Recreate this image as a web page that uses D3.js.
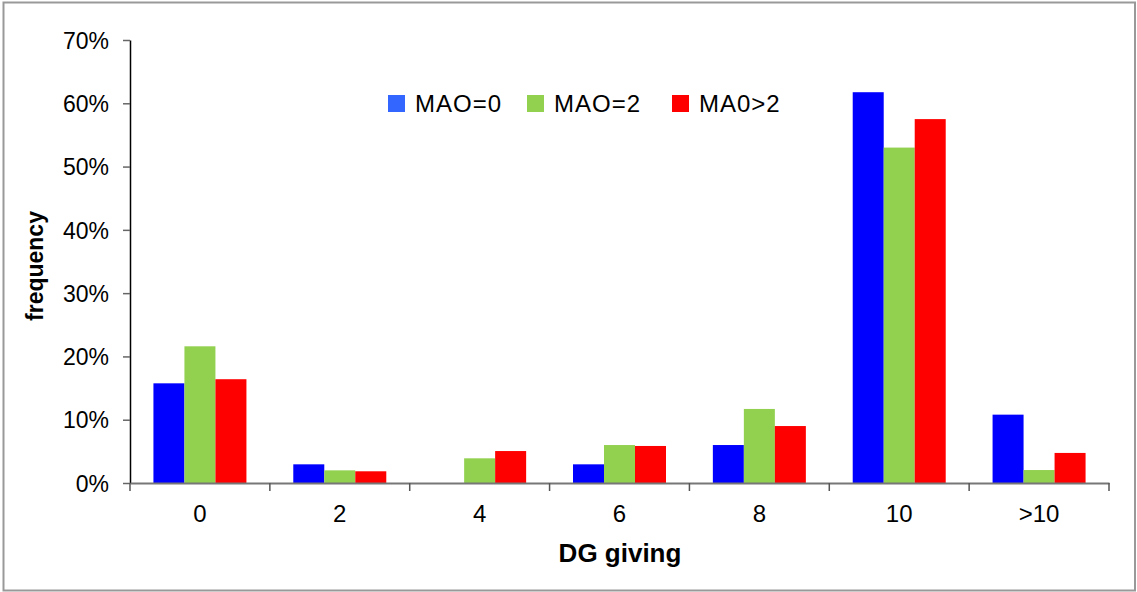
<!DOCTYPE html>
<html>
<head>
<meta charset="utf-8">
<script src="https://cdn.jsdelivr.net/npm/d3@7"></script>
<style>
  html, body { margin: 0; padding: 0; background: #fff; }
  svg { display: block; }
  text { font-family: Arial, "Liberation Sans", sans-serif; fill: #000; }
</style>
</head>
<body>
<svg id="chart" width="1137" height="592"></svg>
<script>
const categories = ["0", "2", "4", "6", "8", "10", ">10"];
const seriesNames = ["MAO=0", "MAO=2", "MA0>2"];
const mao0 = [0.1575, 0.0295, 0.0, 0.0295, 0.060, 0.6175, 0.108];
const mao2 = [0.216, 0.020, 0.039, 0.060, 0.117, 0.530, 0.0205];
const mao2plus = [0.164, 0.0185, 0.0505, 0.0585, 0.090, 0.575, 0.0475];
const yTicks = [0, 0.1, 0.2, 0.3, 0.4, 0.5, 0.6, 0.7];
const barColors = ["#0000ff", "#92d050", "#ff0000"];
const legendColors = ["#3366ff", "#92d050", "#ff0000"];

(function () {
const series = [mao0, mao2, mao2plus];
const svg = d3.select("#chart");

// outer frame
svg.append("rect").attr("x", 3.5).attr("y", 2.5).attr("width", 1131.5).attr("height", 588)
  .attr("fill", "#fff").attr("stroke", "#999").attr("stroke-width", 2);

const mLeft = 130, mRight = 1109, mTop = 40, mBottom = 483;
const x = d3.scaleBand().domain(categories).range([mLeft, mRight]).paddingInner(0).paddingOuter(0);
const x1 = d3.scaleBand().domain(d3.range(series.length)).range([0, 93]);
const y = d3.scaleLinear().domain([0, 0.7]).range([mBottom, mTop]);

// bars
categories.forEach((c, i) => {
  const gStart = x(c) + (x.bandwidth() - 93) / 2;
  series.forEach((s, j) => {
    const v = s[i];
    if (v <= 0) return;
    svg.append("rect")
      .attr("x", gStart + x1(j))
      .attr("y", y(v))
      .attr("width", x1.bandwidth())
      .attr("height", y(0) - y(v))
      .attr("fill", barColors[j]);
  });
});

// y axis
const yAxis = d3.axisLeft(y).tickValues(yTicks).tickFormat(d3.format(".0%")).tickSize(7).tickSizeOuter(0);
const gy = svg.append("g").attr("transform", `translate(${mLeft},0)`).call(yAxis);
gy.select(".domain").attr("stroke", "#000").attr("stroke-width", 1.5);
gy.selectAll(".tick line").attr("stroke", "#666").attr("stroke-width", 1.5);
gy.selectAll(".tick text").attr("x", -21).attr("font-size", 23).attr("dy", "0.36em")
  .attr("font-family", "Arial, 'Liberation Sans', sans-serif").attr("fill", "#000");

// x axis
const xAxis = d3.axisBottom(x).tickSize(0).tickSizeOuter(0);
const gxa = svg.append("g").attr("transform", `translate(0,${mBottom})`).call(xAxis);
gxa.select(".domain").attr("stroke", "#777").attr("stroke-width", 2);
gxa.selectAll(".tick text").attr("y", 39).attr("dy", 0).attr("font-size", 24)
  .attr("font-family", "Arial, 'Liberation Sans', sans-serif").attr("fill", "#000");
const boundaries = categories.map(c => x(c)).concat([x(categories[categories.length - 1]) + x.bandwidth()]);
gxa.selectAll(".bnd").data(boundaries).enter().append("line")
  .attr("x1", d => d).attr("x2", d => d).attr("y1", 0).attr("y2", 8)
  .attr("stroke", "#555").attr("stroke-width", 1.5);

// axis titles
svg.append("text").attr("x", 620).attr("y", 562).attr("text-anchor", "middle")
  .attr("font-size", 26).attr("font-weight", "bold").text("DG giving");
svg.append("text").attr("transform", "translate(43,266) rotate(-90)").attr("text-anchor", "middle")
  .attr("font-size", 23).attr("font-weight", "bold").text("frequency");

// legend
const legendX = [388, 527, 672];
const lg = svg.append("g");
seriesNames.forEach((n, j) => {
  lg.append("rect").attr("x", legendX[j]).attr("y", 95).attr("width", 17).attr("height", 17).attr("fill", legendColors[j]);
  lg.append("text").attr("x", legendX[j] + 27).attr("y", 112).attr("font-size", 24)
    .attr("letter-spacing", 1)
    .attr("font-family", "Arial, 'Liberation Sans', sans-serif").text(n);
});
})();
</script>
</body>
</html>
